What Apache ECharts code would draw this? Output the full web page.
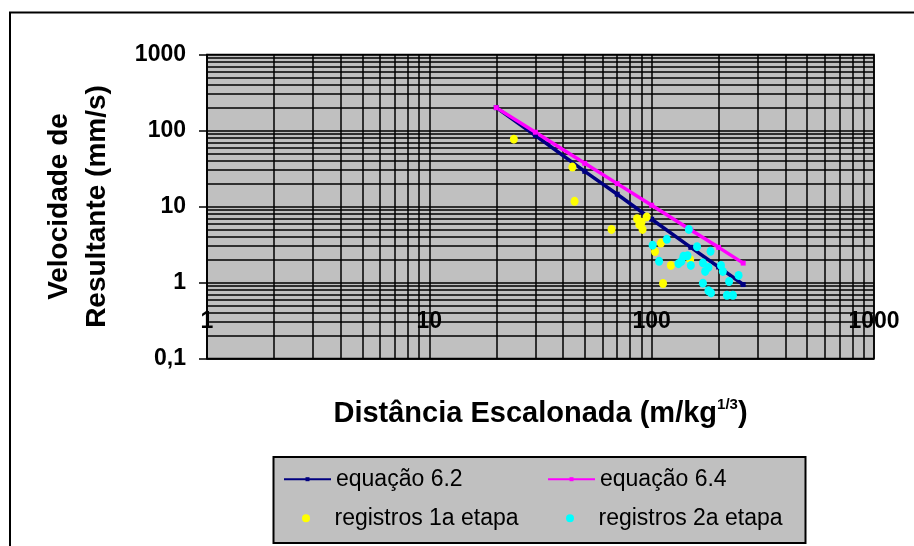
<!DOCTYPE html>
<html>
<head>
<meta charset="utf-8">
<script src="https://cdn.jsdelivr.net/npm/echarts@6/dist/echarts.min.js"></script>
<style>
html,body{margin:0;padding:0;background:#fff;}
#c{width:914px;height:546px;}
</style>
</head>
<body>
<div id="c"></div>
<script>
// ---- data ----
const eq62X = [20, 30, 50, 70, 100, 150, 200, 258];
const eq62Y = [200, 86, 29, 14.5, 6.8, 2.9, 1.6, 0.94];
const eq64X = [20, 30, 50, 70, 100, 150, 200, 258];
const eq64Y = [200, 95, 37, 20, 10.4, 4.9, 2.9, 1.8];

const reg1X = [24, 44, 45, 66, 86, 95, 90, 91, 88, 110, 103.5, 122, 112.5, 149];
const reg1Y = [77, 33, 11.7, 5.0, 6.9, 7.3, 6.2, 5.0, 5.8, 3.3, 2.55, 1.68, 0.97, 2.0];

const reg2X = [147, 117, 101, 108, 160, 184, 139, 145, 136, 132, 150, 170, 180, 174, 205, 209, 246, 223, 170, 180, 185, 218, 232];
const reg2Y = [5.0, 3.7, 3.1, 1.9, 2.96, 2.57, 2.21, 2.25, 1.9, 1.77, 1.68, 1.81, 1.58, 1.4, 1.68, 1.4, 1.24, 1.03, 0.98, 0.78, 0.73, 0.68, 0.68];

const seriesNames = ['equação 6.2', 'equação 6.4', 'registros 1a etapa', 'registros 2a etapa'];

const xTickLabels = ['1', '10', '100', '1000'];
const yTickLabels = ['0,1', '1', '10', '100', '1000'];

const xMinorGrid = [2,3,4,5,6,7,8,9,20,30,40,50,60,70,80,90,200,300,400,500,600,700,800,900];
const yMinorGrid = [0.2,0.3,0.4,0.5,0.6,0.7,0.8,0.9,2,3,4,5,6,7,8,9,20,30,40,50,60,70,80,90,200,300,400,500,600,700,800,900];

const xTitle = '{m|Distância Escalonada (m/kg}{s|1/3}{m|)}';
const yTitle = 'Velocidade de\nResultante (mm/s)';

// ---- chart ----
const FONT = "'Liberation Sans', Arial, sans-serif";
const zip = (a, b) => a.map((v, i) => [v, b[i]]);
const gridLine = { color: '#000', width: 1.5, type: 'solid' };

const chart = echarts.init(document.getElementById('c'), null, { renderer: 'canvas' });

const legendText = { color: '#000', fontFamily: FONT, fontSize: 23, lineHeight: 23 };
function mkLegend(name, left, top, h) {
  return {
    data: [name], left: left, top: top, padding: 0, itemWidth: 47, itemHeight: h,
    itemGap: 0, selectedMode: false, textStyle: legendText, z: 101
  };
}

chart.setOption({
  animation: false,
  backgroundColor: '#fff',
  textStyle: { fontFamily: FONT },
  graphic: [
    { type: 'rect', z: -10, shape: { x: 10, y: 12.5, width: 1000, height: 1000 },
      style: { fill: '#fff', stroke: '#000', lineWidth: 2 } },
    { type: 'rect', z: 100, shape: { x: 273.5, y: 457, width: 532, height: 86 },
      style: { fill: '#C0C0C0', stroke: '#000', lineWidth: 2 } }
  ],
  legend: [
    mkLegend(seriesNames[0], 283, 467.7, 5),
    mkLegend(seriesNames[1], 547, 467.7, 5),
    mkLegend(seriesNames[2], 302, 506.7, 8),
    mkLegend(seriesNames[3], 566, 506.7, 8)
  ],
  grid: {
    left: 207, top: 54.5, width: 667, height: 304,
    show: true, backgroundColor: '#C0C0C0', borderColor: '#000', borderWidth: 1.5,
    containLabel: false
  },
  xAxis: {
    type: 'log', logBase: 10, min: 1, max: 1000,
    axisLine: { show: true, lineStyle: { color: '#000', width: 1.5 } },
    axisTick: { show: false },
    splitLine: { show: true, lineStyle: gridLine },
    minorTick: { show: false }, minorSplitLine: { show: false },
    axisLabel: {
      inside: true, margin: 25, color: '#000', fontFamily: FONT, fontSize: 23, fontWeight: 'bold',
      showMinLabel: true, showMaxLabel: true,
      formatter: v => xTickLabels[Math.round(Math.log10(v))]
    },
    name: xTitle, nameLocation: 'middle', nameGap: 39,
    nameTextStyle: {
      color: '#000',
      rich: {
        m: { fontFamily: FONT, fontSize: 29, fontWeight: 'bold', color: '#000', lineHeight: 32 },
        s: { fontFamily: FONT, fontSize: 15, fontWeight: 'bold', color: '#000', verticalAlign: 'top', lineHeight: 15 }
      }
    }
  },
  yAxis: {
    type: 'log', logBase: 10, min: 0.1, max: 1000,
    axisLine: { show: true, lineStyle: { color: '#000', width: 1.5 } },
    axisTick: { show: true, length: 8, lineStyle: { color: '#000', width: 1.5 } },
    splitLine: { show: true, lineStyle: gridLine },
    minorTick: { show: false }, minorSplitLine: { show: false },
    axisLabel: {
      margin: 21, color: '#000', fontFamily: FONT, fontSize: 23, fontWeight: 'bold',
      formatter: v => yTickLabels[Math.round(Math.log10(v)) + 1]
    },
    name: yTitle, nameLocation: 'middle', nameRotate: 90, nameGap: 91,
    nameTextStyle: { color: '#000', fontFamily: FONT, fontSize: 28, fontWeight: 'bold', lineHeight: 38 }
  },
  series: [
    {
      name: 'minor-grid', type: 'line', data: [], z: 1, silent: true,
      markLine: {
        z: 1, silent: true, symbol: ['none', 'none'], label: { show: false },
        lineStyle: gridLine, emphasis: { disabled: true },
        data: xMinorGrid.map(v => ({ xAxis: v })).concat(yMinorGrid.map(v => ({ yAxis: v })))
      }
    },
    {
      name: seriesNames[0], type: 'line', z: 3, data: zip(eq62X, eq62Y),
      color: '#000080', symbol: 'rect', symbolSize: 5, showSymbol: true,
      lineStyle: { color: '#000080', width: 3.5 }, itemStyle: { color: '#000080' }
    },
    {
      name: seriesNames[1], type: 'line', z: 3, data: zip(eq64X, eq64Y),
      color: '#FF00FF', symbol: 'rect', symbolSize: 5, showSymbol: true,
      lineStyle: { color: '#FF00FF', width: 3.5 }, itemStyle: { color: '#FF00FF' }
    },
    {
      name: seriesNames[2], type: 'scatter', z: 4, data: zip(reg1X, reg1Y),
      symbol: 'circle', symbolSize: [8, 9], itemStyle: { color: '#FFFF00', opacity: 1 }
    },
    {
      name: seriesNames[3], type: 'scatter', z: 5, data: zip(reg2X, reg2Y),
      symbol: 'circle', symbolSize: [8, 9], itemStyle: { color: '#00FFFF', opacity: 1 }
    }
  ]
});
</script>
</body>
</html>
